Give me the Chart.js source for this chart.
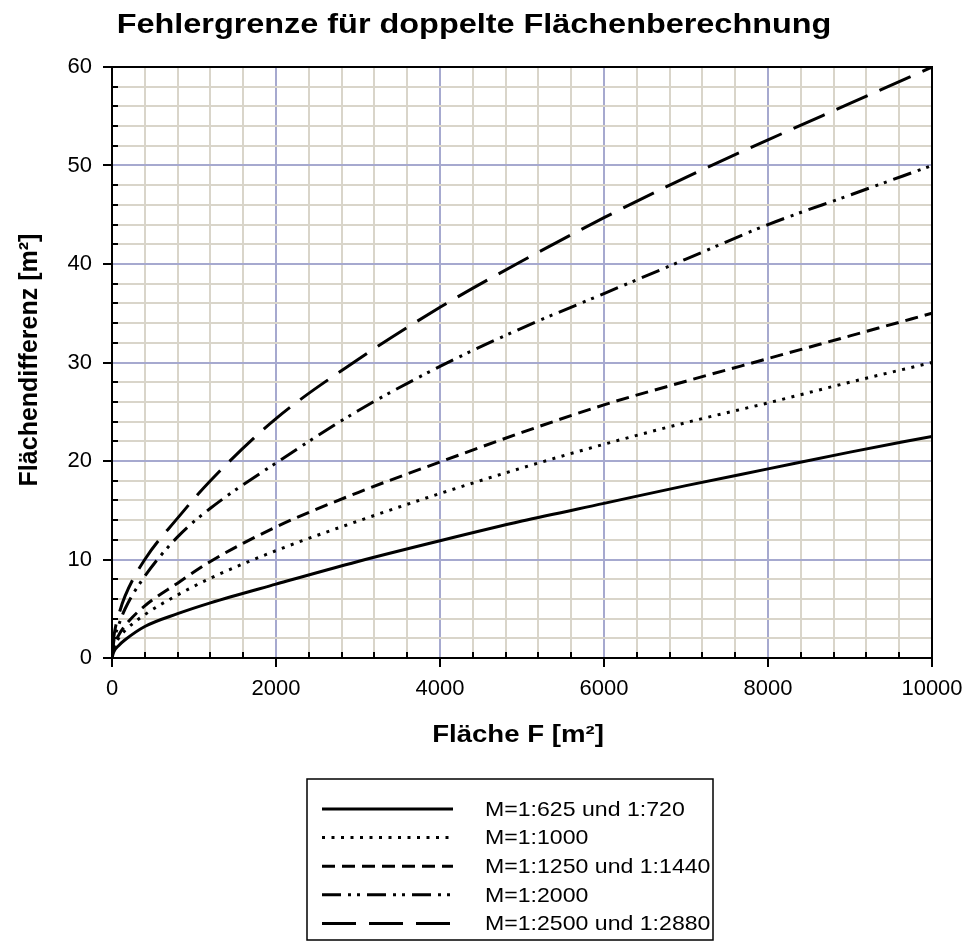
<!DOCTYPE html>
<html lang="de">
<head>
<meta charset="utf-8">
<title>Fehlergrenze für doppelte Flächenberechnung</title>
<script src="https://cdn.jsdelivr.net/npm/chart.js@4.4.1/dist/chart.umd.min.js"></script>
<style>
  html, body { margin: 0; padding: 0; background: #ffffff; }
  #wrap { width: 965px; height: 949px; position: relative; }
</style>
</head>
<body>
<div id="wrap"><canvas id="chart" width="965" height="949"></canvas></div>
<script>
// Fläche F in m²
const flaeche = [0, 20, 80, 160, 400, 800, 1200, 2000, 3000, 4000, 5000, 6000, 7000, 8000, 9000, 10000];

// zulässige Flächendifferenz in m² je Maßstab
const m625   = [0, 0.6, 1.25, 1.85, 3.2, 4.5, 5.6, 7.5, 9.8, 11.9, 13.9, 15.7, 17.5, 19.2, 20.9, 22.5];
const m1000  = [0, 0.9, 2.0, 2.8, 4.4, 6.4, 8.1, 10.9, 13.9, 16.7, 19.3, 21.7, 23.9, 25.9, 28.0, 30.0];
const m1250  = [0, 1.1, 2.3, 3.3, 5.3, 7.6, 9.8, 13.3, 16.8, 19.9, 22.9, 25.7, 28.1, 30.4, 32.7, 35.0];
const m2000  = [0, 1.6, 3.3, 5.0, 8.3, 12.3, 15.2, 19.8, 25.1, 29.6, 33.5, 37.0, 40.5, 44.0, 47.0, 50.0];
const m2500  = [0, 2.0, 4.3, 6.3, 10.0, 14.2, 18.0, 24.3, 30.3, 35.6, 40.3, 44.7, 48.8, 52.6, 56.3, 60.0];

const seriesLabels = [
  'M=1:625 und 1:720',
  'M=1:1000',
  'M=1:1250 und 1:1440',
  'M=1:2000',
  'M=1:2500 und 1:2880'
];

// Achsenbeschriftung
const xTickLabels = ['0', '2000', '4000', '6000', '8000', '10000'];
const yTickLabels = ['0', '10', '20', '30', '40', '50', '60'];

const FONT = '"Liberation Sans", Arial, Helvetica, sans-serif';
const GRID_MINOR = '#d9d5ca';
const GRID_MAJOR = '#a6a9cf';

const styles = [
  { dash: [] },
  { dash: [3, 6.5] },
  { dash: [13, 7] },
  { dash: [19, 7, 3, 6, 3, 7] },
  { dash: [34, 13] }
];

const seriesValues = [m625, m1000, m1250, m2000, m2500];
const datasets = seriesValues.map((vals, i) => ({
  label: seriesLabels[i],
  data: flaeche.map((f, k) => ({ x: f, y: vals[k] })),
  borderColor: '#000000',
  borderWidth: 3,
  borderDash: styles[i].dash,
  borderCapStyle: 'butt',
  pointRadius: 0,
  fill: false,
  cubicInterpolationMode: 'monotone'
}));

const isMajorX = v => Math.abs(v % 2000) < 1e-6;
const isMajorY = v => Math.abs(v % 10) < 1e-6;

// Text mit horizontaler Streckung zeichnen
function wideText(ctx, text, x, y, sx) {
  ctx.save();
  ctx.translate(x, y);
  ctx.scale(sx, 1);
  ctx.fillText(text, 0, 0);
  ctx.restore();
}

// Rahmen, Innen-Teilstriche, Titel und Legende
const decor = {
  id: 'decor',
  afterDraw(chart) {
    const ctx = chart.ctx;
    const a = chart.chartArea;
    const xs = chart.scales.x, ys = chart.scales.y;
    ctx.save();

    // obere und rechte Begrenzung
    ctx.strokeStyle = '#000';
    ctx.lineWidth = 2;
    ctx.setLineDash([]);
    ctx.beginPath();
    ctx.moveTo(a.left, a.top);
    ctx.lineTo(a.right, a.top);
    ctx.lineTo(a.right, a.bottom);
    ctx.stroke();

    // kleine Teilstriche nach innen
    ctx.beginPath();
    for (let v = 400; v < 10000; v += 400) {
      if (isMajorX(v)) continue;
      const px = Math.round(xs.getPixelForValue(v));
      ctx.moveTo(px, a.bottom);
      ctx.lineTo(px, a.bottom - 6);
    }
    for (let v = 2; v < 60; v += 2) {
      if (isMajorY(v)) continue;
      const py = Math.round(ys.getPixelForValue(v));
      ctx.moveTo(a.left, py);
      ctx.lineTo(a.left + 6, py);
    }
    ctx.stroke();

    // Diagrammtitel
    ctx.fillStyle = '#000';
    ctx.font = 'bold 27px ' + FONT;
    ctx.textAlign = 'center';
    ctx.textBaseline = 'alphabetic';
    wideText(ctx, 'Fehlergrenze für doppelte Flächenberechnung', 474, 33, 1.2);

    // Achsentitel
    ctx.font = 'bold 23px ' + FONT;
    wideText(ctx, 'Fläche F [m²]', 518, 742, 1.2);
    ctx.save();
    ctx.font = 'bold 25px ' + FONT;
    ctx.translate(37, 360);
    ctx.rotate(-Math.PI / 2);
    ctx.fillText('Flächendifferenz [m²]', 0, 0);
    ctx.restore();

    // Legende
    const box = { l: 307, t: 779, r: 713, b: 940 };
    ctx.lineWidth = 1.5;
    ctx.strokeStyle = '#000';
    ctx.strokeRect(box.l, box.t, box.r - box.l, box.b - box.t);
    ctx.font = '21px ' + FONT;
    ctx.textAlign = 'left';
    ctx.textBaseline = 'middle';
    chart.data.datasets.forEach((ds, i) => {
      const y = 809 + i * 28.6;
      ctx.save();
      ctx.lineWidth = ds.borderWidth;
      ctx.lineCap = 'butt';
      ctx.setLineDash(ds.borderDash || []);
      ctx.beginPath();
      ctx.moveTo(322, y);
      ctx.lineTo(453, y);
      ctx.stroke();
      ctx.restore();
      wideText(ctx, ds.label, 485, y + 1, 1.1);
    });

    ctx.restore();
  }
};

new Chart(document.getElementById('chart'), {
  type: 'line',
  data: { datasets },
  plugins: [decor],
  options: {
    responsive: false,
    devicePixelRatio: 1,
    animation: false,
    layout: { padding: { top: 67, right: 33, bottom: 251, left: 0 } },
    plugins: {
      legend: { display: false },
      title: { display: false },
      tooltip: { enabled: false }
    },
    scales: {
      x: {
        type: 'linear',
        min: 0,
        max: 10000,
        afterFit: s => { s.height = 40; s.paddingLeft = 0; s.paddingRight = 0; },
        border: { display: true, color: '#000', width: 2 },
        grid: {
          color: c => isMajorX(c.tick.value) ? GRID_MAJOR : GRID_MINOR,
          lineWidth: 2,
          drawTicks: true,
          tickLength: 9,
          tickWidth: 2,
          tickColor: c => isMajorX(c.tick.value) ? '#000' : 'rgba(0,0,0,0)'
        },
        ticks: {
          stepSize: 400,
          autoSkip: false,
          maxRotation: 0,
          padding: 9,
          color: '#000',
          font: { family: FONT, size: 22 },
          callback: v => isMajorX(v) ? xTickLabels[Math.round(v / 2000)] : ''
        }
      },
      y: {
        type: 'linear',
        min: 0,
        max: 60,
        afterFit: s => { s.width = 112; s.paddingTop = 0; s.paddingBottom = 0; },
        border: { display: true, color: '#000', width: 2 },
        grid: {
          color: c => isMajorY(c.tick.value) ? GRID_MAJOR : GRID_MINOR,
          lineWidth: 2,
          drawTicks: true,
          tickLength: 9,
          tickWidth: 2,
          tickColor: c => isMajorY(c.tick.value) ? '#000' : 'rgba(0,0,0,0)'
        },
        ticks: {
          stepSize: 2,
          autoSkip: false,
          padding: 11,
          color: '#000',
          font: { family: FONT, size: 22 },
          callback: v => isMajorY(v) ? yTickLabels[Math.round(v / 10)] : ''
        }
      }
    }
  }
});
</script>
</body>
</html>
